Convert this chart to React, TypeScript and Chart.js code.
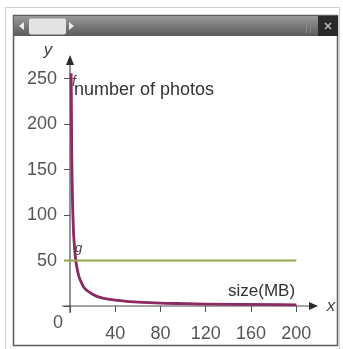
import React, { useEffect, useRef } from "react";
import { Chart, registerables } from "chart.js";

Chart.register(...registerables);

// size of each photo (MB) and number of photos that fit
const sizes = [1, 1.5, 2, 3, 4, 5, 6, 8, 10, 12, 15, 20, 25, 30, 40, 50, 60, 80, 100, 120, 150, 200];
const photos = [256, 171, 128, 85, 64, 51, 43, 32, 26, 21, 17, 13, 10, 8.5, 6.4, 5.1, 4.3, 3.2, 2.6, 2.1, 1.7, 1.3];
// horizontal line g
const gX = [-5, 200];
const gY = [50, 50];

const xTicks = [0, 40, 80, 120, 160, 200];
const yTicks = [0, 50, 100, 150, 200, 250];

const FONT = "'Liberation Sans', Arial, sans-serif";

const framePlugin = {
  id: "frame",
  beforeDraw(chart: any) {
    const ctx = chart.ctx;
    ctx.save();
    // outer light border
    ctx.strokeStyle = "#d2d2d2";
    ctx.lineWidth = 1;
    ctx.strokeRect(5.5, 7.5, 334, 345);
    // inner dark frame
    ctx.strokeStyle = "#5c5c5c";
    ctx.lineWidth = 1.5;
    ctx.strokeRect(13.5, 15.5, 324, 330);
    // top bar
    const g = ctx.createLinearGradient(0, 16, 0, 36);
    g.addColorStop(0, "#9a9a9a");
    g.addColorStop(1, "#5a5a5a");
    ctx.fillStyle = g;
    ctx.fillRect(14, 16, 324, 20);
    // thumb
    ctx.fillStyle = "#e4e4e4";
    ctx.beginPath();
    ctx.roundRect(29, 18.5, 37, 16, 2);
    ctx.fill();
    // arrows
    ctx.fillStyle = "#eeeeee";
    ctx.beginPath();
    ctx.moveTo(19, 26);
    ctx.lineTo(24, 22);
    ctx.lineTo(24, 30);
    ctx.closePath();
    ctx.fill();
    ctx.beginPath();
    ctx.moveTo(74, 26);
    ctx.lineTo(69, 22);
    ctx.lineTo(69, 30);
    ctx.closePath();
    ctx.fill();
    // faint grip
    ctx.strokeStyle = "#8a8a8a";
    ctx.lineWidth = 1;
    ctx.beginPath();
    ctx.moveTo(306.5, 19);
    ctx.lineTo(306.5, 33);
    ctx.moveTo(310.5, 19);
    ctx.lineTo(310.5, 33);
    ctx.stroke();
    // close box
    ctx.fillStyle = "#2a2a2a";
    ctx.fillRect(318, 16, 20, 20);
    ctx.strokeStyle = "#bdbdbd";
    ctx.lineWidth = 1.5;
    ctx.beginPath();
    ctx.moveTo(325, 23);
    ctx.lineTo(331, 29);
    ctx.moveTo(331, 23);
    ctx.lineTo(325, 29);
    ctx.stroke();
    ctx.restore();
  },
  beforeDatasetsDraw(chart: any) {
    const ctx = chart.ctx;
    const xs = chart.scales.x;
    const ys = chart.scales.y;
    const ox = xs.getPixelForValue(0);
    const oy = ys.getPixelForValue(0);
    ctx.save();
    ctx.strokeStyle = "#4a4a4a";
    ctx.fillStyle = "#2a2a2a";
    ctx.lineWidth = 1.2;
    // x axis
    ctx.beginPath();
    ctx.moveTo(ox - 8, oy);
    ctx.lineTo(chart.chartArea.right - 4, oy);
    ctx.stroke();
    ctx.beginPath();
    ctx.moveTo(chart.chartArea.right - 1, oy);
    ctx.lineTo(chart.chartArea.right - 10, oy - 4);
    ctx.lineTo(chart.chartArea.right - 10, oy + 4);
    ctx.closePath();
    ctx.fill();
    // y axis
    ctx.beginPath();
    ctx.moveTo(ox, oy + 7);
    ctx.lineTo(ox, chart.chartArea.top - 4);
    ctx.stroke();
    ctx.beginPath();
    ctx.moveTo(ox, chart.chartArea.top - 13);
    ctx.lineTo(ox - 4, chart.chartArea.top - 3);
    ctx.lineTo(ox + 4, chart.chartArea.top - 3);
    ctx.closePath();
    ctx.fill();
    ctx.restore();
  },
  afterDraw(chart: any) {
    const ctx = chart.ctx;
    const xs = chart.scales.x;
    const ys = chart.scales.y;
    const ox = xs.getPixelForValue(0);
    const oy = ys.getPixelForValue(0);
    ctx.save();
    ctx.textBaseline = "alphabetic";
    // axis names
    ctx.fillStyle = "#444";
    ctx.font = `italic 17px ${FONT}`;
    ctx.textAlign = "center";
    ctx.fillText("y", 48, 55);
    ctx.fillText("x", chart.chartArea.right + 12, oy + 5);
    // origin label
    ctx.fillStyle = "#555";
    ctx.font = `18px ${FONT}`;
    ctx.fillText("0", ox - 12, oy + 22);
    // curve labels
    ctx.textAlign = "left";
    ctx.fillStyle = "#333";
    ctx.font = `18px ${FONT}`;
    ctx.fillText("number of photos", ox + 4, 95);
    ctx.font = `17px ${FONT}`;
    ctx.fillText("size(MB)", 228, oy - 10);
    ctx.font = `italic 14px ${FONT}`;
    ctx.fillStyle = "#444";
    ctx.fillText("f", ox + 2, 86);
    ctx.font = `italic 13px ${FONT}`;
    ctx.fillText("g", ox + 5, ys.getPixelForValue(50) - 9);
    ctx.restore();
  },
};

export default function App() {
  const ref = useRef<HTMLCanvasElement | null>(null);
  useEffect(() => {
    if (!ref.current) return;
    const curve = sizes.map((s, i) => ({ x: s, y: photos[i] }));
    const line = gX.map((v, i) => ({ x: v, y: gY[i] }));
    const chart = new Chart(ref.current, {
      type: "line",
      data: {
        datasets: [
          {
            data: line,
            borderColor: "#8fa848",
            borderWidth: 2,
            pointRadius: 0,
            clip: false as any,
          },
          {
            data: curve,
            borderColor: "#8a2c62",
            borderWidth: 2.8,
            pointRadius: 0,
            cubicInterpolationMode: "monotone",
            clip: false as any,
          },
          {
            data: curve,
            borderColor: "#d24a92",
            borderWidth: 1.8,
            pointRadius: 0,
            cubicInterpolationMode: "monotone",
            clip: false as any,
          },
        ],
      },
      options: {
        animation: false,
        responsive: false,
        events: [],
        layout: { padding: { top: 68, right: 24, left: 0, bottom: 0 } },
        plugins: { legend: { display: false }, tooltip: { enabled: false } },
        scales: {
          x: {
            type: "linear",
            min: 0,
            max: 220,
            afterFit: (s: any) => {
              s.height = 43;
            },
            afterBuildTicks: (s: any) => {
              s.ticks = xTicks.map((v) => ({ value: v }));
            },
            border: { display: false },
            grid: { drawOnChartArea: false, drawTicks: true, tickLength: 6, color: "#555" },
            ticks: {
              padding: 11,
              color: "#555",
              font: { family: FONT, size: 18 },
              maxRotation: 0,
              callback: (v: any) => (v === 0 ? "" : String(v)),
            },
          },
          y: {
            type: "linear",
            min: 0,
            max: 262,
            afterFit: (s: any) => {
              s.width = 70;
            },
            afterBuildTicks: (s: any) => {
              s.ticks = yTicks.map((v) => ({ value: v }));
            },
            border: { display: false },
            grid: { drawOnChartArea: false, drawTicks: true, tickLength: 6, color: "#555" },
            ticks: {
              padding: 7,
              color: "#555",
              font: { family: FONT, size: 18 },
              callback: (v: any) => (v === 0 ? "" : String(v)),
            },
          },
        },
      },
      plugins: [framePlugin],
    });
    return () => chart.destroy();
  }, []);
  return (
    <div style={{ position: "absolute", left: 0, top: 0, width: 343, height: 349, background: "#fff" }}>
      <canvas ref={ref} width={343} height={349} />
    </div>
  );
}
